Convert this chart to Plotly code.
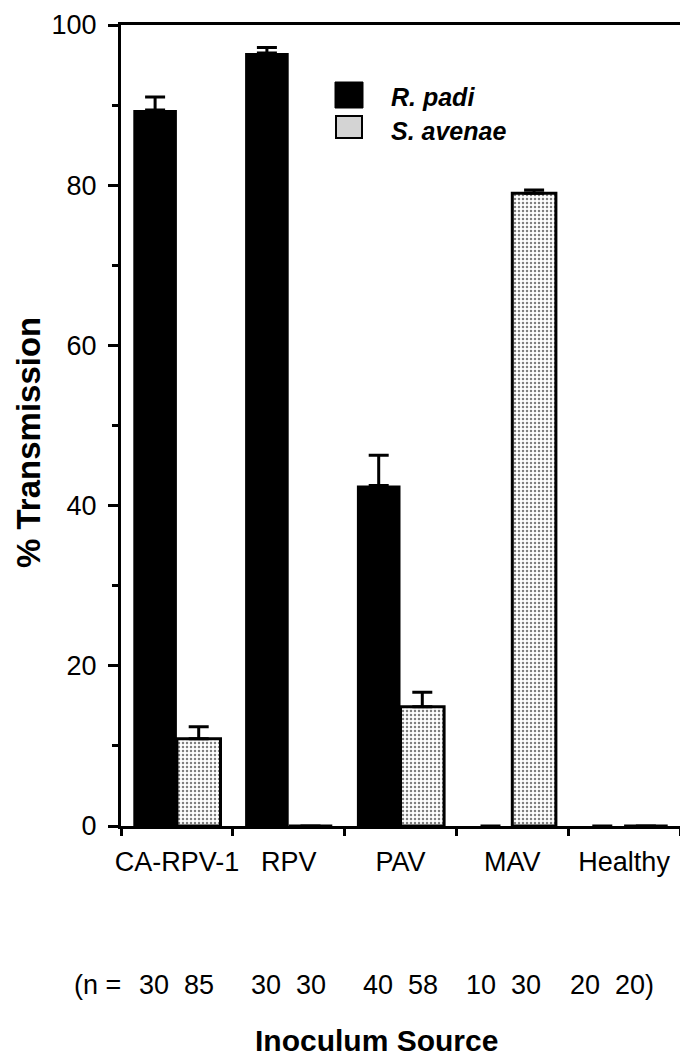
import plotly.graph_objects as go

# ---- data ----
categories = ["CA-RPV-1", "RPV", "PAV", "MAV", "Healthy"]
r_padi = [89.4, 96.5, 42.5, 0, 0]
r_padi_err = [1.6, 0.7, 3.8, 0, 0]
s_avenae = [10.9, 0, 14.9, 79.0, 0]
s_avenae_err = [1.5, 0, 1.8, 0.4, 0]
n_padi = [30, 30, 40, 10, 20]
n_avenae = [85, 30, 58, 30, 20]
y_ticks = [0, 20, 40, 60, 80, 100]

FONT = "Liberation Sans, Arial, Helvetica, sans-serif"

fig = go.Figure()
fig.add_trace(go.Bar(
    x=categories, y=r_padi, name="R. padi",
    marker=dict(color="black", line=dict(color="black", width=0)),
    error_y=dict(type="data", symmetric=False, array=r_padi_err,
                 arrayminus=[0] * len(r_padi_err),
                 color="black", thickness=3, width=10),
))
fig.add_trace(go.Bar(
    x=categories, y=s_avenae, name="S. avenae",
    marker=dict(color="white", line=dict(color="black", width=3),
                pattern=dict(shape=".", fgcolor="black", bgcolor="white",
                             size=4, solidity=0.3)),
    error_y=dict(type="data", symmetric=False, array=s_avenae_err,
                 arrayminus=[0] * len(s_avenae_err),
                 color="black", thickness=3, width=10),
))

# page has an 8px body margin; figure sized to fit inside the window
OFF = 8
W, H = 680, 1052
# plot area in screen pixels
SL, SR, ST, SB = 121, 680, 25, 826
L, R, T, B = SL - OFF, W - (SR - OFF), ST - OFF, H - (SB - OFF)
pw = W - L - R
ph = H - T - B

def px_x(px):
    return (px - SL) / pw

def px_y(py):
    return (SB - py) / ph

annotations = []
shapes = []

# legend (manual)
shapes.append(dict(type="rect", xref="paper", yref="paper",
                   x0=px_x(335), x1=px_x(363), y0=px_y(108), y1=px_y(82),
                   fillcolor="black", line=dict(color="black", width=1)))
shapes.append(dict(type="rect", xref="paper", yref="paper",
                   x0=px_x(336), x1=px_x(362), y0=px_y(138), y1=px_y(116),
                   fillcolor="#d4d4d4", line=dict(color="black", width=2)))
for name, yy in [("R. padi", 97), ("S. avenae", 131)]:
    annotations.append(dict(xref="paper", yref="paper", x=px_x(389), y=px_y(yy),
                            xanchor="left", yanchor="middle", showarrow=False,
                            text="<b><i>%s</i></b>" % name,
                            font=dict(family=FONT, size=25, color="black")))

# n row
annotations.append(dict(xref="paper", yref="paper", x=px_x(72), y=px_y(985),
                        xanchor="left", yanchor="middle", showarrow=False,
                        text="(n =", font=dict(family=FONT, size=27, color="black")))
n_shifts = [0, 0, 0, -9, -12]
for i, (a, b) in enumerate(zip(n_padi, n_avenae)):
    last = i == len(n_padi) - 1
    txt = "%d  %d" % (a, b) + (")" if last else "")
    annotations.append(dict(xref="x", yref="paper", x=categories[i], y=px_y(985),
                            xanchor="center", yanchor="middle", showarrow=False,
                            xshift=n_shifts[i],
                            text=txt, font=dict(family=FONT, size=27, color="black")))

# axis titles
annotations.append(dict(xref="paper", yref="paper", x=px_x(376), y=px_y(1040),
                        xanchor="center", yanchor="middle", showarrow=False,
                        text="<b>Inoculum Source</b>",
                        font=dict(family=FONT, size=30, color="black")))
annotations.append(dict(xref="paper", yref="paper", x=px_x(29), y=px_y(443),
                        xanchor="center", yanchor="middle", showarrow=False,
                        textangle=-90, text="<b>% Transmission</b>",
                        font=dict(family=FONT, size=33, color="black")))

fig.update_layout(
    width=W, height=H,
    margin=dict(l=L, r=R, t=T, b=B, pad=0, autoexpand=False),
    paper_bgcolor="white", plot_bgcolor="white",
    barmode="group", bargap=0.22, bargroupgap=0.0,
    showlegend=False,
    font=dict(family=FONT, size=26, color="black"),
    annotations=annotations, shapes=shapes,
)
fig.update_xaxes(
    type="category", categoryorder="array", categoryarray=categories,
    range=[-0.5, len(categories) - 0.5],
    showline=True, linecolor="black", linewidth=3, mirror=True,
    ticks="outside", tickson="boundaries", ticklen=7, tickwidth=3, tickcolor="black",
    showgrid=False, zeroline=False, automargin=False, tickangle=0,
    tickfont=dict(family=FONT, size=27, color="black"),
    ticklabelstandoff=10,
)
fig.update_yaxes(
    range=[0, 100], tickvals=y_ticks, ticktext=[str(v) for v in y_ticks],
    showline=True, linecolor="black", linewidth=3, mirror=True,
    ticks="outside", ticklen=10, tickwidth=3, tickcolor="black",
    minor=dict(dtick=10, ticks="outside", ticklen=6, tickwidth=3, tickcolor="black"),
    showgrid=False, zeroline=False, automargin=False,
    tickfont=dict(family=FONT, size=27, color="black"),
    ticklabelstandoff=6,
)

fig.write_html("out.html")
